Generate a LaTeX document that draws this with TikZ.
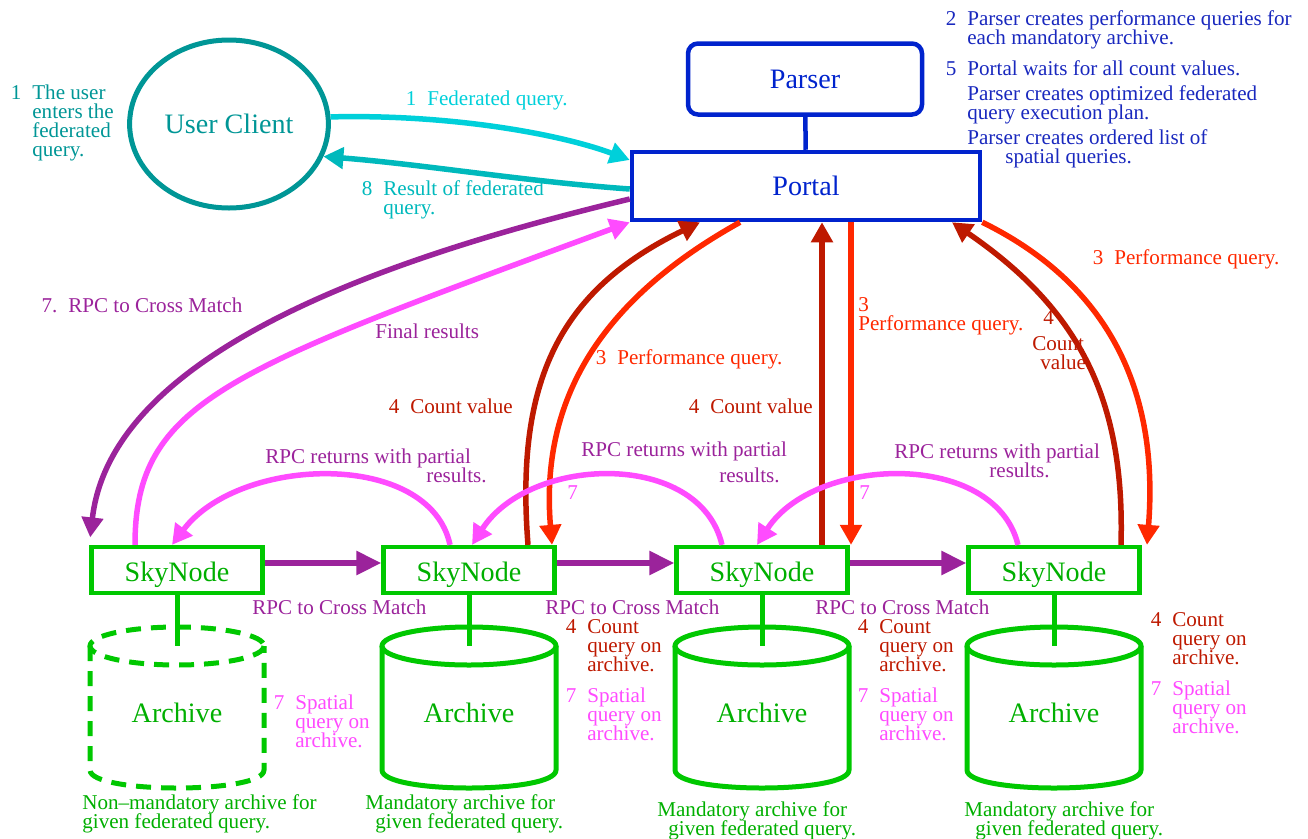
\documentclass[tikz,border=0pt]{standalone}
\usepackage{fontspec}
\setmainfont{Liberation Serif}
\usetikzlibrary{arrows.meta,shapes.geometric}

\definecolor{clientteal}{RGB}{0,150,150}
\definecolor{fedcyan}{RGB}{0,208,218}
\definecolor{resteal}{RGB}{0,185,188}
\definecolor{portalblue}{RGB}{0,35,205}
\definecolor{noteblue}{RGB}{25,40,190}
\definecolor{rpcpurple}{RGB}{155,35,155}
\definecolor{partmagenta}{RGB}{255,75,255}
\definecolor{countred}{RGB}{190,25,0}
\definecolor{perfred}{RGB}{255,40,0}
\definecolor{skygreen}{RGB}{0,200,0}
\definecolor{textgreen}{RGB}{0,175,0}

\lineskiplimit=-6pt

% number hanging left of a note
\newcommand{\hangnum}[1]{\llap{#1\hspace{2.2mm}}}

\tikzset{
  every node/.style={font=\fontsize{12}{10.8}\selectfont},
  note/.style={inner sep=0pt, anchor=north west, align=left},
  bigfont/.style={font=\fontsize{16}{18}\selectfont},
  skybox/.style={draw=skygreen, line width=0.85mm, minimum width=34.2mm,
                 minimum height=9.2mm, text height=5.6mm, text depth=1mm,
                 text=textgreen, bigfont},
  cylline/.style={draw=skygreen, line width=1mm},
  flow/.style={line width=1.1mm, -{Triangle[length=4mm,width=4.2mm]}},
}

% archive cylinder: [options]{name}{centre x}
\newcommand{\archivecyl}[3][]{%
  \begin{scope}[shift={(#3,0)}]
    \draw[cylline,#1] (-87,646) -- (-87,770)
          .. controls (-87,794) and (87,794) .. (87,770) -- (87,646);
    \draw[cylline,#1] (0,646) ellipse [x radius=87, y radius=19];
    \coordinate (#2-top) at (0,646);
    \node[text=textgreen, bigfont] (#2) at (0,713) {Archive};
  \end{scope}}

\begin{document}
\begin{tikzpicture}[x=0.2mm, y=-0.2mm]
  \useasboundingbox (0,0) rectangle (1308,838);

  % client, parser and portal
  \node[ellipse, draw=clientteal, line width=1mm, minimum width=39.4mm,
        minimum height=33.6mm, text=clientteal, bigfont] (client) at (229,124) {User Client};
  \node[draw=portalblue, line width=0.9mm, rounded corners=2mm, minimum width=46.8mm,
        minimum height=14.2mm, text=portalblue, bigfont] (parser) at (805,79) {Parser};
  \node[draw=portalblue, line width=0.9mm, minimum width=69.6mm,
        minimum height=13.6mm, text=portalblue, bigfont] (portal) at (806,186) {Portal};
  \draw[portalblue, line width=0.9mm] (parser) -- (portal);

  % skynodes and archives
  \foreach \n/\x in {1/177, 2/469, 3/762, 4/1054}
    \node[skybox] (sky\n) at (\x,570) {SkyNode};
  \archivecyl[dash pattern=on 3mm off 2mm]{arch1}{177}
  \archivecyl{arch2}{469}
  \archivecyl{arch3}{762}
  \archivecyl{arch4}{1054}
  \foreach \n in {1,...,4}
    \draw[cylline] (sky\n) -- (arch\n-top);

  % cross match chain
  \foreach \a/\b in {1/2, 2/3, 3/4}
    \draw[flow, rpcpurple, -{Triangle[length=5mm,width=4.6mm]}]
         (sky\a.east |- 0,563) -- (sky\b.west |- 0,563);

  % client <-> portal
  \draw[flow, fedcyan] (client.4) .. controls (450,114) and (560,134) .. (portal.west |- 0,160);
  \draw[flow, resteal] (portal.west |- 0,189) .. controls (530,182) and (420,164) .. (client.-19);

  % portal <-> first skynode
  \draw[flow, rpcpurple, shorten >=1.5mm] (portal.west |- 0,199)
        .. controls (410,252) and (112,345) .. (sky1.north west);
  \draw[flow, partmagenta] (sky1.north -| 135,0)
        .. controls (135,400) and (230,370) .. (portal.south west);

  % performance queries and count values
  \draw[flow, countred] (sky2.north -| 528,0) .. controls (515,380) and (560,290) .. (portal.south -| 700,0);
  \draw[flow, perfred] (portal.south -| 740,0) .. controls (600,300) and (540,400) .. (sky2.north -| 552,0);
  \draw[flow, countred] (sky3.north -| 822,0) -- (portal.south -| 822,0);
  \draw[flow, perfred] (portal.south -| 851,0) -- (sky3.north -| 851,0);
  \draw[flow, countred] (sky4.north -| 1121,0) .. controls (1125,400) and (1080,310) .. (portal.south -| 952,0);
  \draw[flow, perfred] (portal.south east) .. controls (1100,280) and (1160,380) .. (sky4.north -| 1147,0);

  % partial results
  \draw[flow, partmagenta] (sky2.north -| 450,0) .. controls (430,450) and (240,455) .. (sky1.north -| 172,0);
  \draw[flow, partmagenta] (sky3.north -| 722,0) .. controls (700,450) and (530,455) .. (sky2.north -| 472,0);
  \draw[flow, partmagenta] (sky4.north -| 1018,0) .. controls (995,450) and (815,455) .. (sky3.north -| 757,0);

  % notes
  \node[note, text=clientteal] (n-user) at (32,85) {\hangnum{1}The user\\enters the\\federated\\query.};
  \node[note, text=fedcyan] (n-fed) at (427,91) {\hangnum{1}Federated query.};
  \node[note, text=resteal] (n-res) at (383,180) {\hangnum{8}Result of federated\\query.};
  \node[note, text=noteblue] (n-parser) at (967,10)
       {\hangnum{2}Parser creates performance queries for\\each mandatory archive.\\[2.4mm]
        \hangnum{5}Portal waits for all count values.\\[1.2mm]
        Parser creates optimized federated\\query execution plan.\\[1.2mm]
        Parser creates ordered list of\\\hspace*{7.6mm}spatial queries.};
  \node[note, text=rpcpurple] (n-rpc) at (68,298) {\hangnum{7.}RPC to Cross Match};
  \node[note, text=rpcpurple] (n-final) at (375,324) {Final results};
  \node[note, text=countred] (n-count2) at (410,399) {\hangnum{4}Count value};
  \node[note, text=perfred] (n-perf2) at (617,349) {\hangnum{3}Performance query.};
  \node[note, text=countred] (n-count3) at (710,399) {\hangnum{4}Count value};
  \node[note, text=perfred] (n-perf3) at (858,297) {3\\Performance query.};
  \node[note, text=countred] (n-count4) at (1032,310) {\hspace*{2.2mm}4\\[1.4mm]Count\\\hspace*{1.6mm}value.};
  \node[note, text=perfred] (n-perf4) at (1114,249) {\hangnum{3}Performance query.};
  \node[note, text=rpcpurple] (n-part1) at (265,449) {RPC returns with partial\\\hspace*{32.2mm}results.};
  \node[note, text=rpcpurple] (n-part2) at (581,442) {RPC returns with partial\\[1.4mm]\hspace*{27.6mm}results.};
  \node[note, text=rpcpurple] (n-part3) at (894,444) {RPC returns with partial\\\hspace*{19mm}results.};
  \node[note, text=partmagenta] (n-seven2) at (567,485) {7};
  \node[note, text=partmagenta] (n-seven3) at (859,485) {7};
  \foreach \x [count=\i] in {252, 545, 815}
    \node[note, text=rpcpurple] (n-cross\i) at (\x,600) {RPC to Cross Match};
  \node[note, text=partmagenta] (n-spat1) at (295,695) {\hangnum{7}Spatial\\query on\\archive.};
  \foreach \x/\y [count=\i from 2] in {587/619, 879/619, 1172/612} {
    \node[note, text=countred] (n-cq\i) at (\x,\y) {\hangnum{4}Count\\query on\\archive.};
    \node[note, text=partmagenta] (n-spat\i) at (\x,\y+69) {\hangnum{7}Spatial\\query on\\archive.};
  }
  \node[note, text=textgreen] (n-opt) at (82,794) {Non--mandatory archive for\\given federated query.};
  \node[note, text=textgreen] (n-man2) at (365,794) {Mandatory archive for\\\hspace*{2mm}given federated query.};
  \node[note, text=textgreen] (n-man3) at (657,801) {Mandatory archive for\\\hspace*{2.2mm}given federated query.};
  \node[note, text=textgreen] (n-man4) at (964,801) {Mandatory archive for\\\hspace*{2.2mm}given federated query.};
\end{tikzpicture}
\end{document}
